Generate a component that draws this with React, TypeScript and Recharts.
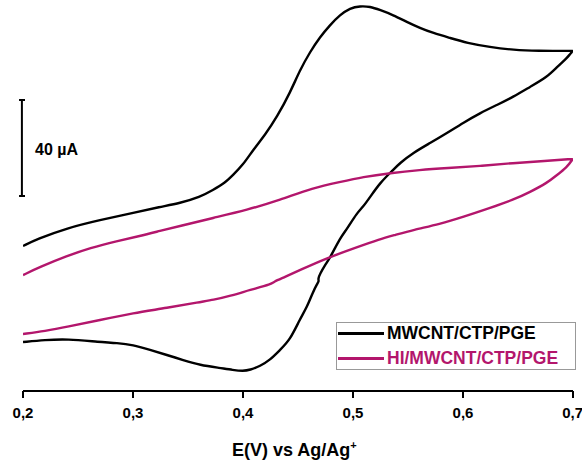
import React from 'react';
import { LineChart, Line, XAxis, YAxis, ReferenceLine } from 'recharts';

// Potential (V vs Ag/Ag+) and current (µA)
const blackE = [
  0.2, 0.2127, 0.24, 0.27, 0.3, 0.3245, 0.3427, 0.3609, 0.3727, 0.3836, 0.3909, 0.4, 0.4091, 0.42, 0.4309,
  0.4427, 0.4518, 0.4609, 0.47, 0.4791, 0.4882, 0.4973, 0.5064, 0.5155, 0.5245, 0.5364, 0.5491, 0.5609,
  0.5727, 0.5882, 0.6036, 0.6245, 0.6455, 0.67, 0.6882, 0.6995, 0.7,
  0.6973, 0.6945, 0.6855, 0.6764, 0.6609, 0.6455, 0.6309, 0.6155, 0.6, 0.5855, 0.57, 0.5545, 0.5427,
  0.5364, 0.5245, 0.5155, 0.5091, 0.5036, 0.4945, 0.4882, 0.4791, 0.4745, 0.47, 0.4682, 0.4691, 0.4673,
  0.4636, 0.4582, 0.4518, 0.4427, 0.4336, 0.4245, 0.4155, 0.4064, 0.4, 0.3909, 0.3791, 0.3609, 0.3455,
  0.3309, 0.3155, 0.3, 0.2855, 0.27, 0.24, 0.22, 0.2,
];
const blackI = [
  -39.6, -36.7, -32.1, -28.75, -25.8, -23.3, -21.7, -19.2, -16.25, -13.3, -10.0, -5.8, 0.4, 6.7, 14.2,
  24.2, 33.75, 41.25, 47.5, 52.5, 56.7, 59.6, 60.4, 60.2, 58.75, 56.7, 53.75, 51.25,
  49.2, 47.1, 45.0, 43.3, 42.1, 41.7, 41.7, 41.7, 41.7,
  40.4, 38.75, 35.0, 30.8, 26.7, 22.5, 19.2, 15.8, 11.7, 7.5, 3.3, -0.8, -5.0,
  -7.9, -13.3, -19.2, -23.3, -25.8, -32.5, -36.25, -44.6, -47.5, -51.25, -53.3, -54.2, -55.4,
  -58.75, -65.0, -70.0, -78.75, -82.9, -87.1, -89.6, -91.25, -91.7, -91.25, -90.4, -89.2, -87.1,
  -85.0, -82.9, -80.8, -80.0, -79.6, -78.3, -78.75, -79.6,
];
const magentaE = [
  0.2, 0.2155, 0.24, 0.2609, 0.2855, 0.3064, 0.3245, 0.3427, 0.3727, 0.4036, 0.4336, 0.4636, 0.4882,
  0.5091, 0.5336, 0.5609, 0.5855, 0.6155, 0.6455, 0.6745, 0.6995, 0.7,
  0.6945, 0.6855, 0.6764, 0.6609, 0.6455, 0.6245, 0.6, 0.5791, 0.5545, 0.5382, 0.5245, 0.5018, 0.4764,
  0.4518, 0.4382, 0.4273, 0.4264, 0.4064, 0.3882, 0.3727, 0.3609, 0.3309, 0.3, 0.27, 0.24, 0.22, 0.2,
];
const magentaI = [
  -51.7, -48.3, -43.75, -40.4, -37.5, -35.4, -33.3, -31.25, -27.9, -24.6, -20.4, -15.4, -12.9,
  -10.8, -9.2, -7.9, -7.1, -6.25, -5.0, -4.2, -3.3, -3.3,
  -6.7, -10.0, -13.3, -17.1, -20.4, -23.75, -27.5, -30.4, -32.9, -35.0, -36.7, -40.4, -44.6,
  -49.6, -52.5, -54.6, -55.4, -57.9, -60.4, -62.1, -62.9, -65.4, -67.5, -70.4, -73.3, -75.0, -76.25,
];

const xTicks = [0.2, 0.3, 0.4, 0.5, 0.6, 0.7];
const seriesNames = ['MWCNT/CTP/PGE', 'HI/MWCNT/CTP/PGE'];
const seriesColors = ['#000000', '#B3166C'];
const scaleBarTop = 21.25;
const scaleBarBottom = -18.75;
const scaleBarLabel = '40 µA';

const FONT = 'Arial, "Liberation Sans", sans-serif';

const toPoints = (xs: number[], ys: number[]) => xs.map((x, i) => ({ x, y: ys[i] }));
const series = [toPoints(blackE, blackI), toPoints(magentaE, magentaI)];

export default function App() {
  return (
    <div style={{ position: 'absolute', left: 0, top: 0, width: 582, height: 465, background: '#fff', fontFamily: FONT }}>
      <LineChart width={582} height={465} margin={{ top: 1, right: 9, left: 23, bottom: 14 }}>
        <XAxis
          type="number"
          dataKey="x"
          domain={[0.2, 0.7]}
          ticks={xTicks}
          allowDataOverflow
          tickFormatter={(v: number) => v.toFixed(1).replace('.', ',')}
          axisLine={{ stroke: '#000', strokeWidth: 2 }}
          tickLine={{ stroke: '#000', strokeWidth: 2 }}
          tickSize={7}
          tickMargin={9}
          height={60}
          tick={{ fill: '#000', fontSize: 15, fontWeight: 'bold', fontFamily: FONT }}
        />
        <YAxis type="number" dataKey="y" domain={[-100, 62.5]} hide allowDataOverflow />
        <ReferenceLine
          segment={[{ x: 0.199, y: scaleBarBottom }, { x: 0.199, y: scaleBarTop }]}
          stroke="#000"
          strokeWidth={2}
          ifOverflow="visible"
        />
        <ReferenceLine
          segment={[{ x: 0.1964, y: scaleBarTop }, { x: 0.2018, y: scaleBarTop }]}
          stroke="#000"
          strokeWidth={2}
          ifOverflow="visible"
        />
        <ReferenceLine
          segment={[{ x: 0.1964, y: scaleBarBottom }, { x: 0.2018, y: scaleBarBottom }]}
          stroke="#000"
          strokeWidth={2}
          ifOverflow="visible"
        />
        {series.map((d, i) => (
          <Line
            key={seriesNames[i]}
            data={d}
            dataKey="y"
            name={seriesNames[i]}
            type="basis"
            stroke={seriesColors[i]}
            strokeWidth={2.4}
            dot={false}
            activeDot={false}
            isAnimationActive={false}
          />
        ))}
      </LineChart>

      <div style={{ position: 'absolute', left: 35, top: 141, fontSize: 16, fontWeight: 'bold', lineHeight: '18px', color: '#000' }}>
        {scaleBarLabel}
      </div>

      <div style={{ position: 'absolute', left: 232, top: 441, fontSize: 18, fontWeight: 'bold', lineHeight: '18px', color: '#000', whiteSpace: 'nowrap' }}>
        E(V) vs Ag/Ag<sup style={{ fontSize: 11, verticalAlign: 'super', lineHeight: 0 }}>+</sup>
      </div>

      <div style={{ position: 'absolute', left: 336, top: 322, width: 240, height: 48, border: '1px solid #999', boxSizing: 'border-box', background: '#fff' }}>
        {seriesNames.map((n, i) => (
          <div key={n} style={{ position: 'absolute', left: 0, top: 10 + i * 25 - 12, height: 24, width: 238 }}>
            <div style={{ position: 'absolute', left: 1, top: 11, width: 46, height: 3, background: seriesColors[i] }} />
            <div style={{ position: 'absolute', left: 50, top: 0, lineHeight: '24px', fontSize: 17.5, fontWeight: 'bold', color: seriesColors[i], whiteSpace: 'nowrap' }}>
              {n}
            </div>
          </div>
        ))}
      </div>
    </div>
  );
}
